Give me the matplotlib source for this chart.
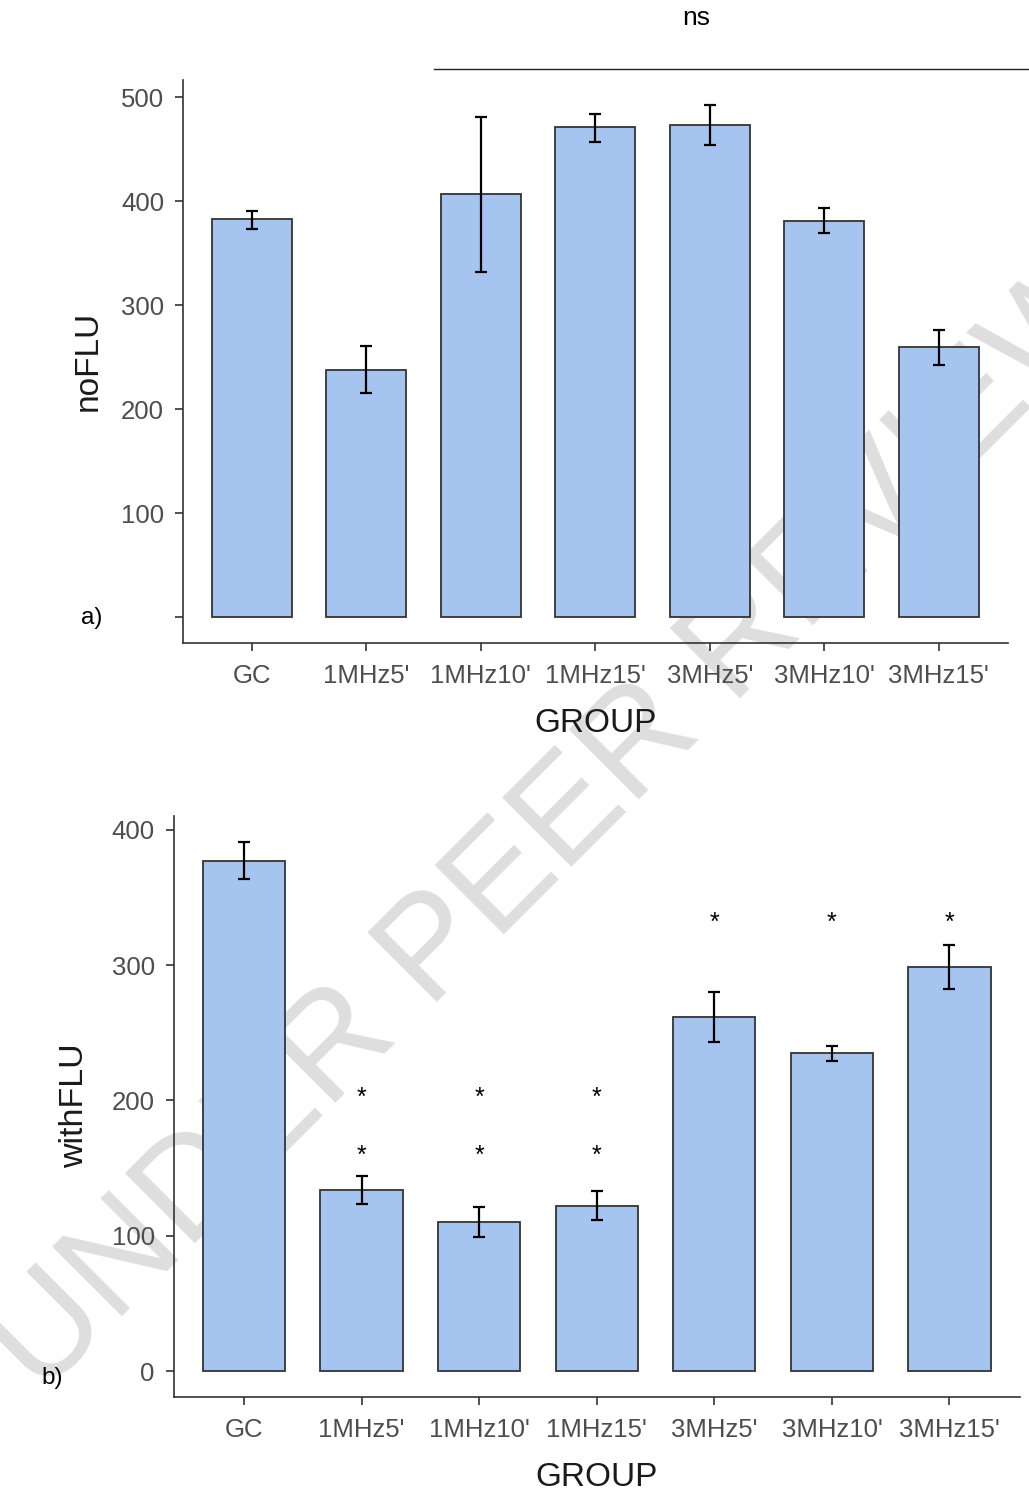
import matplotlib
matplotlib.use("Agg")
import matplotlib.pyplot as plt

plt.rcParams['font.family'] = ['Liberation Sans', 'DejaVu Sans']

# ---------------- data ----------------
groups = ["GC", "1MHz5'", "1MHz10'", "1MHz15'", "3MHz5'", "3MHz10'", "3MHz15'"]

noflu_mean = [382.7, 238.1, 407.4, 471.2, 473.7, 381.4, 259.6]
noflu_low = [373.7, 215.7, 332.4, 457.0, 454.5, 369.5, 242.3]
noflu_high = [391.3, 260.6, 481.7, 484.6, 493.0, 393.3, 276.6]

withflu_mean = [377.2, 133.6, 110.4, 122.0, 261.9, 234.8, 298.8]
withflu_low = [363.9, 123.2, 98.8, 111.4, 243.4, 229.1, 282.6]
withflu_high = [390.8, 143.9, 121.4, 133.0, 280.3, 240.4, 315.1]

# significance stars on panel b (group, y)
star_groups = ["1MHz5'", "1MHz5'", "1MHz10'", "1MHz10'", "1MHz15'", "1MHz15'",
               "3MHz5'", "3MHz10'", "3MHz15'"]
star_y = [153.7, 197.0, 153.7, 197.0, 153.7, 197.0, 326.1, 326.1, 326.1]

# "ns" bracket on panel a
ns_x_start, ns_x_end, ns_y = 1.59, 6.80, 527
ns_text_x, ns_text_y = 3.88, 576

yticks_a = [100, 200, 300, 400, 500]
yticks_a_all = [0, 100, 200, 300, 400, 500]
yticks_b = [0, 100, 200, 300, 400]

# ---------------- style ----------------
W, H = 1029, 1496
fig = plt.figure(figsize=(W / 100, H / 100), dpi=100)

BAR_FC = "#a6c4f0"
EDGE = "#333333"
TICK_C = "#4d4d4d"


def frac_rect(l, t, r, b):
    return [l / W, 1 - b / H, (r - l) / W, (b - t) / H]


ax1 = fig.add_axes(frac_rect(183, 79.5, 1007.5, 643))
ax2 = fig.add_axes(frac_rect(173.5, 816, 1020, 1397.3))

x = list(range(len(groups)))


def style(ax):
    ax.set_facecolor("none")
    for s in ["top", "right"]:
        ax.spines[s].set_visible(False)
    for s in ["left", "bottom"]:
        ax.spines[s].set_color(EDGE)
        ax.spines[s].set_linewidth(1.2)
    ax.tick_params(axis="both", colors=EDGE, length=5.5, width=1.2,
                   labelsize=18.5, labelcolor=TICK_C)
    ax.tick_params(axis="y", pad=8)
    ax.tick_params(axis="x", pad=9.5)
    ax.set_xlim(-0.6, len(groups) - 1 + 0.6)
    ax.set_xticks(x)
    ax.set_xticklabels(groups)


def draw(ax, mean, low, high):
    ax.bar(x, mean, width=0.7, color=BAR_FC, edgecolor=EDGE, linewidth=1.3, zorder=2)
    yerr = [[m - l for m, l in zip(mean, low)], [h - m for m, h in zip(mean, high)]]
    ax.errorbar(x, mean, yerr=yerr, fmt="none", ecolor="black", elinewidth=1.6,
                capsize=4, capthick=1.6, zorder=3)


# panel a
style(ax1)
draw(ax1, noflu_mean, noflu_low, noflu_high)
ax1.set_ylim(-24.6, 517.3)
ax1.set_yticks(yticks_a_all)
ax1.set_yticklabels([""] + [str(v) for v in yticks_a])
ax1.plot([ns_x_start, ns_x_end], [ns_y, ns_y], color="#222222", lw=1.0, clip_on=False)
ax1.text(ns_text_x, ns_text_y, "ns", ha="center", va="center", fontsize=19, color="black",
         clip_on=False)

# panel b
style(ax2)
draw(ax2, withflu_mean, withflu_low, withflu_high)
ax2.set_ylim(-19.4, 410.3)
ax2.set_yticks(yticks_b)
for g, yv in zip(star_groups, star_y):
    ax2.text(groups.index(g), yv, "*", ha="center", va="baseline", fontsize=18, color="black")

# axis titles
fig.text(596 / W, 1 - 723 / H, "GROUP", ha="center", va="center", fontsize=24, color="#1a1a1a")
fig.text(597 / W, 1 - 1477 / H, "GROUP", ha="center", va="center", fontsize=24, color="#1a1a1a")
fig.text(88 / W, 1 - 361 / H, "noFLU", ha="center", va="center", rotation=90, fontsize=24,
         color="#1a1a1a")
fig.text(75 / W, 1 - 1106 / H, "withFLU", ha="center", va="center", rotation=90, fontsize=24.5,
         color="#1a1a1a")

# panel letters
fig.text(92 / W, 1 - 618 / H, "a)", ha="center", va="center", fontsize=17.5, color="black")
fig.text(52 / W, 1 - 1378 / H, "b)", ha="center", va="center", fontsize=17.5, color="black")

# watermark (behind the plots)
fig.text(586 / W, 1 - 852 / H, "UNDER PEER REVIEW", ha="center", va="baseline", rotation=45,
         rotation_mode="anchor", fontsize=103, color="#dedede", zorder=-5)

fig.savefig("out.png", dpi=100)
